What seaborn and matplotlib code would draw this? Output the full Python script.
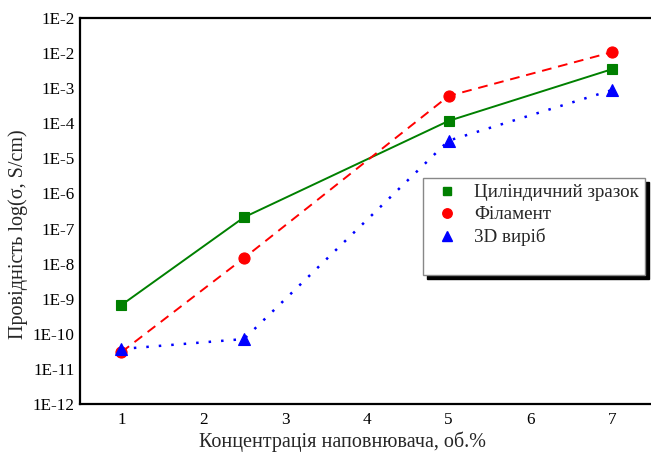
import matplotlib
matplotlib.use("Agg")
import matplotlib.pyplot as plt
from matplotlib.lines import Line2D
from matplotlib.ticker import FixedLocator, FixedFormatter, MultipleLocator, NullLocator
import numpy as np
import pandas as pd
import seaborn as sns

# Filler concentration, vol.%
concentration = [1, 2.5, 5, 7]

# Conductivity, S/cm
cylinder = [6.6e-10, 2.1e-7, 1.17e-4, 3.5e-3]
filament = [3.0e-11, 1.45e-8, 6.0e-4, 1.07e-2]
printed = [3.7e-11, 7.1e-11, 3.2e-5, 8.9e-4]

series_names = ["Циліндичний зразок", "Філамент", "3D виріб"]

y_tick_values = [1e-1, 1e-2, 1e-3, 1e-4, 1e-5, 1e-6, 1e-7, 1e-8, 1e-9, 1e-10, 1e-11, 1e-12]
y_tick_labels = ["1E-2", "1E-2", "1E-3", "1E-4", "1E-5", "1E-6", "1E-7", "1E-8",
                 "1E-9", "1E-10", "1E-11", "1E-12"]
x_tick_values = [1, 2, 3, 4, 5, 6, 7]

x_label = "Концентрація наповнювача, об.%"
y_label = "Провідність log(σ, S/cm)"

sns.set_style("white")
plt.rcParams["font.family"] = ["Liberation Serif", "DejaVu Serif"]

fig = plt.figure(figsize=(6.51, 4.58), dpi=100)
ax = fig.add_axes([0.1236, 0.1179, 0.8798, 0.8428])

df = pd.DataFrame({
    "x": concentration * 3,
    "y": cylinder + filament + printed,
    "series": np.repeat(series_names, len(concentration)),
})

styles = {
    "Циліндичний зразок": dict(color="#008000", marker="s", ms=7, ls="-", lw=1.4),
    "Філамент": dict(color="#ff0000", marker="o", ms=8, ls=(0, (5, 3.5)), lw=1.4),
    "3D виріб": dict(color="#0000ff", marker="^", ms=8.5, ls=(0, (1, 4)), lw=1.8),
}

for name in series_names:
    st = styles[name]
    sub = df[df["series"] == name]
    sns.lineplot(data=sub, x="x", y="y", ax=ax, color=st["color"], lw=st["lw"],
                 linestyle=st["ls"], marker=st["marker"], markersize=st["ms"],
                 markeredgecolor=st["color"], markeredgewidth=0.8, legend=False,
                 estimator=None, sort=False)

ax.set_yscale("log")
ax.set_xlim(0.5, 7.5)
ax.set_ylim(1e-12, 1e-1)
ax.yaxis.set_major_locator(FixedLocator(y_tick_values))
ax.yaxis.set_major_formatter(FixedFormatter(y_tick_labels))
ax.yaxis.set_minor_locator(NullLocator())
ax.xaxis.set_major_locator(FixedLocator(x_tick_values))
ax.xaxis.set_minor_locator(MultipleLocator(0.5))

ax.tick_params(axis="both", which="major", direction="in", length=5, width=1.5,
               labelsize=12.3, colors="black")
ax.tick_params(axis="y", which="major", pad=4)
ax.tick_params(axis="x", which="minor", direction="in", length=3, width=1.2)
ax.tick_params(axis="x", which="major", pad=6)

for side in ["left", "bottom", "top", "right"]:
    ax.spines[side].set_visible(True)
    ax.spines[side].set_color("black")
    ax.spines[side].set_linewidth(1.6)

ax.set_xlabel(x_label, fontsize=14.5)
ax.set_ylabel(y_label, fontsize=14.5)
ax.xaxis.set_label_coords(0.4576, -0.07)
ax.yaxis.set_label_coords(-0.092, 0.44)

handles = [Line2D([], [], ls="none", marker=styles[n]["marker"], color=styles[n]["color"],
                  markersize=styles[n]["ms"] * 0.85) for n in series_names]
handles.append(Line2D([], [], ls="none"))
labels = series_names + [" "]
leg = ax.legend(handles, labels, loc="upper left", bbox_to_anchor=(0.598, 0.586),
                frameon=True, fancybox=False,
                shadow={"color": "black", "alpha": 1, "ox": 3, "oy": -3},
                fontsize=13.7, handletextpad=0.45, borderpad=0.33, labelspacing=0.25,
                handlelength=1.9, borderaxespad=0)
leg.get_frame().set_edgecolor("#888888")
leg.get_frame().set_linewidth(1.0)
leg.get_frame().set_alpha(1)

fig.savefig("out.png", dpi=100)
